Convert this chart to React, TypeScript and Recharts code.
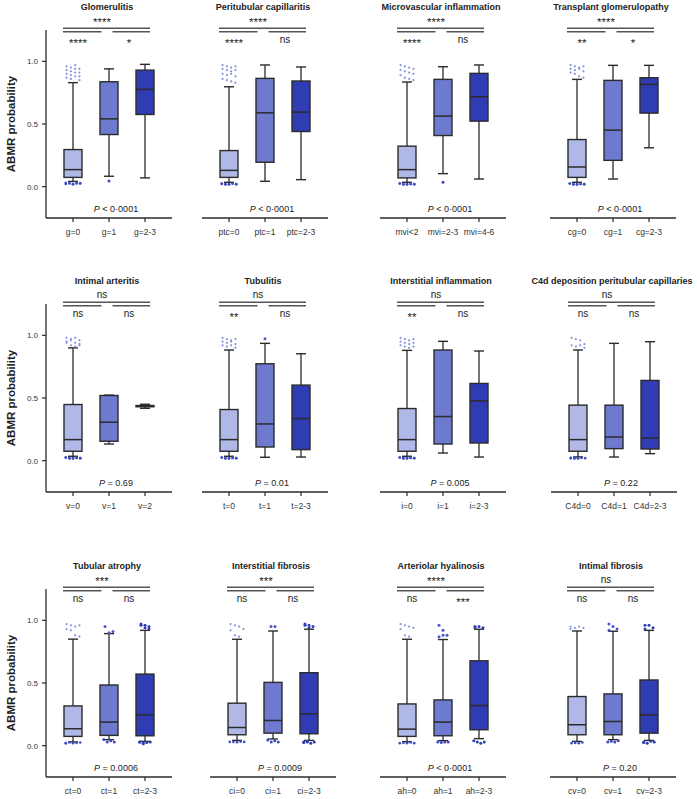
import React from 'react';
import { ComposedChart, Bar, XAxis, YAxis, ReferenceLine, Label } from 'recharts';

const FONT = '"Liberation Sans", Arial, Helvetica, sans-serif';
const INK = '#2b2b2b';
const LINE = '#555555';
const BOX_FILLS = ['#b0b8e8', '#6e7acf', '#2f3cb3'];
const HIGH_DOT = ['#8293dc', '#4c5ac5', '#2f3cb3'];
const LOW_DOT = ['#3d4dbf', '#3d4dbf', '#2f3cb3'];

// ---- titles, p-values, significance labels (panel order: row by row) ----
const titles = [
  'Glomerulitis', 'Peritubular capillaritis', 'Microvascular inflammation', 'Transplant glomerulopathy',
  'Intimal arteritis', 'Tubulitis', 'Interstitial inflammation', 'C4d deposition peritubular capillaries',
  'Tubular atrophy', 'Interstitial fibrosis', 'Arteriolar hyalinosis', 'Intimal fibrosis',
];
const pValues = [
  '< 0·0001', '< 0·0001', '< 0·0001', '< 0·0001',
  '= 0.69', '= 0.01', '= 0.005', '= 0.22',
  '= 0.0006', '= 0.0009', '< 0·0001', '= 0.20',
];
const sigOverall = ['****', '****', '****', '****', 'ns', 'ns', 'ns', 'ns', '***', '***', '****', 'ns'];
const sigFirstPair = ['****', '****', '****', '**', 'ns', '**', '**', 'ns', 'ns', 'ns', 'ns', 'ns'];
const sigSecondPair = ['*', 'ns', 'ns', '*', 'ns', 'ns', 'ns', 'ns', 'ns', 'ns', '***', 'ns'];

// ---- categories ----
const gCats = ['g=0', 'g=1', 'g=2-3'];
const ptcCats = ['ptc=0', 'ptc=1', 'ptc=2-3'];
const mviCats = ['mvi<2', 'mvi=2-3', 'mvi=4-6'];
const cgCats = ['cg=0', 'cg=1', 'cg=2-3'];
const vCats = ['v=0', 'v=1', 'v=2'];
const tCats = ['t=0', 't=1', 't=2-3'];
const iCats = ['i=0', 'i=1', 'i=2-3'];
const c4dCats = ['C4d=0', 'C4d=1', 'C4d=2-3'];
const ctCats = ['ct=0', 'ct=1', 'ct=2-3'];
const ciCats = ['ci=0', 'ci=1', 'ci=2-3'];
const ahCats = ['ah=0', 'ah=1', 'ah=2-3'];
const cvCats = ['cv=0', 'cv=1', 'cv=2-3'];

// ---- box statistics: [whisker low, Q1, median, Q3, whisker high] ----
const gStats = [[0.042, 0.074, 0.136, 0.296, 0.83], [0.083, 0.416, 0.541, 0.837, 0.94], [0.07, 0.576, 0.776, 0.93, 0.976]];
const ptcStats = [[0.035, 0.074, 0.13, 0.288, 0.797], [0.043, 0.195, 0.589, 0.864, 0.971], [0.056, 0.44, 0.595, 0.843, 0.955]];
const mviStats = [[0.035, 0.07, 0.136, 0.323, 0.835], [0.104, 0.408, 0.563, 0.856, 0.957], [0.061, 0.523, 0.717, 0.904, 0.971]];
const cgStats = [[0.035, 0.074, 0.157, 0.376, 0.856], [0.061, 0.21, 0.451, 0.848, 0.968], [0.31, 0.587, 0.816, 0.869, 0.968]];
const vStats = [[0.035, 0.075, 0.168, 0.448, 0.9], [0.133, 0.155, 0.307, 0.52, 0.523], [0.418, 0.43, 0.435, 0.44, 0.45]];
const tStats = [[0.035, 0.075, 0.168, 0.408, 0.883], [0.027, 0.109, 0.293, 0.773, 0.936], [0.029, 0.088, 0.336, 0.603, 0.853]];
const iStats = [[0.035, 0.075, 0.168, 0.416, 0.88], [0.061, 0.133, 0.352, 0.883, 0.952], [0.029, 0.141, 0.477, 0.616, 0.875]];
const c4dStats = [[0.03, 0.075, 0.168, 0.443, 0.883], [0.029, 0.096, 0.189, 0.443, 0.936], [0.056, 0.093, 0.181, 0.64, 0.949]];
const ctStats = [[0.03, 0.074, 0.135, 0.317, 0.85], [0.048, 0.082, 0.188, 0.484, 0.894], [0.034, 0.079, 0.246, 0.571, 0.92]];
const ciStats = [[0.042, 0.087, 0.145, 0.339, 0.849], [0.053, 0.1, 0.201, 0.505, 0.915], [0.042, 0.095, 0.254, 0.582, 0.929]];
const ahStats = [[0.032, 0.074, 0.132, 0.333, 0.849], [0.04, 0.079, 0.188, 0.365, 0.847], [0.056, 0.127, 0.32, 0.677, 0.929]];
const cvStats = [[0.034, 0.087, 0.167, 0.392, 0.915], [0.048, 0.087, 0.193, 0.413, 0.913], [0.042, 0.1, 0.246, 0.524, 0.92]];

// ---- outliers above the upper whisker ----
const gHigh = [[0.96, 0.95, 0.97, 0.94, 0.93, 0.92, 0.94, 0.91, 0.9, 0.89, 0.91, 0.88, 0.87, 0.86, 0.88, 0.85], [], []];
const ptcHigh = [[0.97, 0.96, 0.95, 0.96, 0.94, 0.93, 0.92, 0.93, 0.9, 0.89, 0.9, 0.88, 0.86, 0.85, 0.84, 0.83], [], []];
const mviHigh = [[0.97, 0.96, 0.95, 0.94, 0.93, 0.92, 0.91, 0.9, 0.89, 0.87, 0.86, 0.85], [], []];
const cgHigh = [[0.97, 0.96, 0.95, 0.96, 0.94, 0.93, 0.94, 0.92, 0.91, 0.9, 0.88, 0.87], [], []];
const vHigh = [[0.98, 0.97, 0.98, 0.96, 0.95, 0.96, 0.94, 0.93, 0.94, 0.92, 0.91, 0.92], [], []];
const tHigh = [[0.98, 0.97, 0.96, 0.97, 0.95, 0.94, 0.95, 0.93, 0.92, 0.91, 0.92, 0.9], [0.973], []];
const iHigh = [[0.98, 0.97, 0.96, 0.97, 0.95, 0.94, 0.93, 0.94, 0.92, 0.91, 0.9, 0.91], [], []];
const c4dHigh = [[0.98, 0.97, 0.96, 0.93, 0.92, 0.91, 0.92, 0.9], [], []];
const ctHigh = [[0.97, 0.96, 0.95, 0.96, 0.93, 0.92, 0.88, 0.87], [0.95, 0.9, 0.91], [0.97, 0.96, 0.95, 0.96, 0.94, 0.93]];
const ciHigh = [[0.97, 0.96, 0.95, 0.93, 0.92, 0.88, 0.87], [0.95, 0.95], [0.97, 0.96, 0.95, 0.96, 0.94]];
const ahHigh = [[0.97, 0.96, 0.95, 0.94, 0.93, 0.88, 0.87], [0.96, 0.92, 0.88, 0.87, 0.88], [0.95, 0.95, 0.94, 0.94]];
const cvHigh = [[0.95, 0.94, 0.95, 0.94, 0.93], [0.97, 0.95, 0.93, 0.92], [0.96, 0.96, 0.94, 0.93]];

// ---- outliers below the lower whisker ----
const gLow = [[0.03, 0.025, 0.02, 0.03, 0.025, 0.022, 0.03, 0.02, 0.025, 0.028], [0.045], []];
const ptcLow = [[0.025, 0.02, 0.018, 0.025, 0.02, 0.022, 0.018, 0.02, 0.025, 0.02], [], []];
const mviLow = [[0.025, 0.02, 0.018, 0.022, 0.02, 0.025, 0.018, 0.02, 0.022, 0.02], [0.035], []];
const cgLow = [[0.025, 0.02, 0.018, 0.022, 0.02, 0.025, 0.018, 0.02, 0.022, 0.02], [], []];
const vLow = [[0.025, 0.02, 0.018, 0.022, 0.02, 0.025, 0.018, 0.02, 0.022, 0.02], [], []];
const tLow = [[0.025, 0.02, 0.018, 0.022, 0.02, 0.025, 0.018, 0.02, 0.022, 0.02], [], []];
const iLow = [[0.025, 0.02, 0.018, 0.022, 0.02, 0.025, 0.018, 0.02, 0.022, 0.02], [], []];
const c4dLow = [[0.022, 0.02, 0.018, 0.022, 0.02, 0.02, 0.018, 0.02], [], []];
const ctLow = [[0.02, 0.025, 0.02, 0.022, 0.025, 0.02], [0.05, 0.03, 0.04, 0.03], [0.03, 0.02, 0.025, 0.03, 0.03, 0.015]];
const ciLow = [[0.03, 0.03, 0.028, 0.032, 0.03], [0.045, 0.03, 0.04, 0.03], [0.03, 0.035, 0.02, 0.03, 0.025, 0.03]];
const ahLow = [[0.02, 0.022, 0.02, 0.025, 0.02], [0.03, 0.025, 0.03, 0.03], [0.04, 0.03, 0.02, 0.03]];
const cvLow = [[0.02, 0.022, 0.02, 0.025], [0.03, 0.035, 0.03, 0.04], [0.03, 0.02, 0.035, 0.03, 0.025]];

const panelCats = [gCats, ptcCats, mviCats, cgCats, vCats, tCats, iCats, c4dCats, ctCats, ciCats, ahCats, cvCats];
const panelStats = [gStats, ptcStats, mviStats, cgStats, vStats, tStats, iStats, c4dStats, ctStats, ciStats, ahStats, cvStats];
const panelHigh = [gHigh, ptcHigh, mviHigh, cgHigh, vHigh, tHigh, iHigh, c4dHigh, ctHigh, ciHigh, ahHigh, cvHigh];
const panelLow = [gLow, ptcLow, mviLow, cgLow, vLow, tLow, iLow, c4dLow, ctLow, ciLow, ahLow, cvLow];

// ---- layout ----
const ROW_TOPS = [0, 274, 559];
const PLOT_LEFTS = [[46, 202, 380, 550], [46, 202, 380, 551], [46, 210, 380, 550]];
const Y_DOMAIN: [number, number] = [-0.25, 1.25];

function spread(vals: number[], maxCols: number, gap: number) {
  const n = vals.length;
  const cols = Math.max(1, Math.min(n, maxCols));
  return vals.map((v, i) => ({ v, dx: ((i % cols) - (cols - 1) / 2) * gap }));
}

function BoxShape(props: any) {
  const { x, y, width, height } = props;
  const row = props.row || props.payload;
  if (!row || x == null || y == null) return null;
  const top = Math.min(y, y + height);
  const bot = Math.max(y, y + height);
  const { lo, q1, med, q3, hi, outHigh, outLow, idx } = row;
  const py = (v: number) => top + ((bot - top) * (hi - v)) / (hi - lo);
  const cx = x + width / 2;
  const cap = 5;
  const isFirst = idx === 0;
  const highDots = spread(outHigh, isFirst ? 4 : 3, isFirst ? 4.3 : 4);
  const lowDots = spread(outLow, isFirst ? 5 : 4, isFirst ? 3.6 : 3.5);
  return (
    <g>
      <line x1={cx} x2={cx} y1={py(q3)} y2={py(hi)} stroke={INK} strokeWidth={1.3} />
      <line x1={cx} x2={cx} y1={py(q1)} y2={py(lo)} stroke={INK} strokeWidth={1.3} />
      <line x1={cx - cap} x2={cx + cap} y1={py(hi)} y2={py(hi)} stroke={INK} strokeWidth={1.4} />
      <line x1={cx - cap} x2={cx + cap} y1={py(lo)} y2={py(lo)} stroke={INK} strokeWidth={1.4} />
      <rect x={x} y={py(q3)} width={width} height={Math.max(0.8, py(q1) - py(q3))} fill={BOX_FILLS[idx]} stroke={INK} strokeWidth={1.4} />
      <line x1={x} x2={x + width} y1={py(med)} y2={py(med)} stroke={INK} strokeWidth={1.5} />
      {highDots.map((d, i) => (
        <circle key={'h' + i} cx={cx + d.dx} cy={py(d.v)} r={isFirst ? 1.1 : 1.5} fill={HIGH_DOT[idx]} />
      ))}
      {lowDots.map((d, i) => (
        <circle key={'l' + i} cx={cx + d.dx} cy={py(d.v)} r={isFirst ? 1.3 : 1.5} fill={LOW_DOT[idx]} />
      ))}
    </g>
  );
}

function YLabel(props: any) {
  const vb = props.viewBox || { x: 0, y: 30, width: 46, height: 188 };
  const x = vb.x + 11;
  const y = vb.y + vb.height / 2;
  return (
    <text x={x} y={y} transform={`rotate(-90, ${x}, ${y})`} textAnchor="middle" dominantBaseline="central"
      fontFamily={FONT} fontSize={11.5} fontWeight="bold" fill="#222">ABMR probability</text>
  );
}

function Panel({ k, left, top, showY }: { k: number; left: number; top: number; showY: boolean }) {
  const cats = panelCats[k];
  const stats = panelStats[k];
  const rows = cats.map((name, i) => ({
    name,
    lo: stats[i][0], q1: stats[i][1], med: stats[i][2], q3: stats[i][3], hi: stats[i][4],
    range: [stats[i][0], stats[i][4]],
    outHigh: panelHigh[k][i],
    outLow: panelLow[k][i],
    idx: i,
  }));
  const seg = (a: number, b: number, yv: number) => [{ x: cats[a], y: yv }, { x: cats[b], y: yv }];
  const lineShape = (dl: number, dr: number) => (p: any) => (
    <line x1={p.x1 + dl} x2={p.x2 + dr} y1={p.y1} y2={p.y2} stroke={LINE} strokeWidth={1.3} />
  );
  const sigShape = (txt: string, dx: number, starDy: number) => (p: any) => {
    const star = txt.indexOf('*') >= 0;
    return (
      <text x={(p.x1 + p.x2) / 2 + dx} y={p.y1 + (star ? starDy : 0)} textAnchor="middle" fontFamily={FONT}
        fontSize={star ? 11.5 : 10} fill="#222">{txt}</text>
    );
  };
  const titleShape = (p: any) => (
    <text x={(p.x1 + p.x2) / 2 - 2} y={p.y1} textAnchor="middle" fontFamily={FONT} fontSize={9}
      fontWeight="bold" fill="#222">{titles[k]}</text>
  );
  const pShape = (p: any) => (
    <text x={(p.x1 + p.x2) / 2 + 7} y={p.y1} textAnchor="middle" fontFamily={FONT} fontSize={9} fill="#222">
      <tspan fontStyle="italic">P</tspan>{' ' + pValues[k]}
    </text>
  );
  return (
    <div style={{ position: 'absolute', left, top }}>
      <ComposedChart width={192} height={240} data={rows}
        margin={{ top: 30, right: 20, bottom: 0, left: showY ? 0 : 46 }}>
        <XAxis dataKey="name" interval={0} padding={{ left: 9, right: 9 }} height={22}
          tickSize={4} tickMargin={7} stroke={INK} axisLine={{ stroke: INK, strokeWidth: 1.3 }}
          tickLine={{ stroke: INK, strokeWidth: 1.2 }}
          tick={{ fontSize: 8.5, fill: '#333', fontFamily: FONT }} />
        {showY ? (
          <YAxis type="number" domain={Y_DOMAIN} allowDataOverflow ticks={[0, 0.5, 1]}
            tickFormatter={(v: number) => v.toFixed(1)} width={46} tickSize={4} tickMargin={4}
            stroke={INK} axisLine={{ stroke: INK, strokeWidth: 1.3 }} tickLine={{ stroke: INK, strokeWidth: 1.2 }}
            tick={{ fontSize: 8, fill: '#333', fontFamily: FONT }}>
            <Label content={YLabel} />
          </YAxis>
        ) : (
          <YAxis type="number" hide domain={Y_DOMAIN} allowDataOverflow />
        )}
        <Bar dataKey="range" barSize={18} isAnimationActive={false}
          shape={(p: any) => <BoxShape {...p} row={rows[p.index]} />} />
        <ReferenceLine ifOverflow="visible" segment={seg(0, 2, 1.264)} shape={lineShape(-10, 5)} />
        <ReferenceLine ifOverflow="visible" segment={seg(0, 1, 1.236)} shape={lineShape(-10, -7.5)} />
        <ReferenceLine ifOverflow="visible" segment={seg(1, 2, 1.236)} shape={lineShape(3.5, 5)} />
        <ReferenceLine ifOverflow="visible" segment={seg(0, 2, 1.3)} shape={sigShape(sigOverall[k], -7, 2.5)} />
        <ReferenceLine ifOverflow="visible" segment={seg(0, 0, 1.145)} shape={sigShape(sigFirstPair[k], 5, 4)} />
        <ReferenceLine ifOverflow="visible" segment={seg(2, 2, 1.145)} shape={sigShape(sigSecondPair[k], -16, 4)} />
        <ReferenceLine ifOverflow="visible" segment={seg(0, 2, 1.407)} shape={titleShape} />
        <ReferenceLine ifOverflow="visible" segment={seg(0, 2, -0.205)} shape={pShape} />
      </ComposedChart>
    </div>
  );
}

export default function App() {
  const panels = [];
  for (let r = 0; r < 3; r++) {
    for (let c = 0; c < 4; c++) {
      const k = r * 4 + c;
      panels.push(
        <Panel key={k} k={k} left={PLOT_LEFTS[r][c] - 46} top={ROW_TOPS[r]} showY={c === 0} />
      );
    }
  }
  return (
    <div style={{ position: 'absolute', left: 0, top: 0, width: 697, height: 799, background: '#fff', overflow: 'hidden', fontFamily: FONT }}>
      {panels}
    </div>
  );
}
